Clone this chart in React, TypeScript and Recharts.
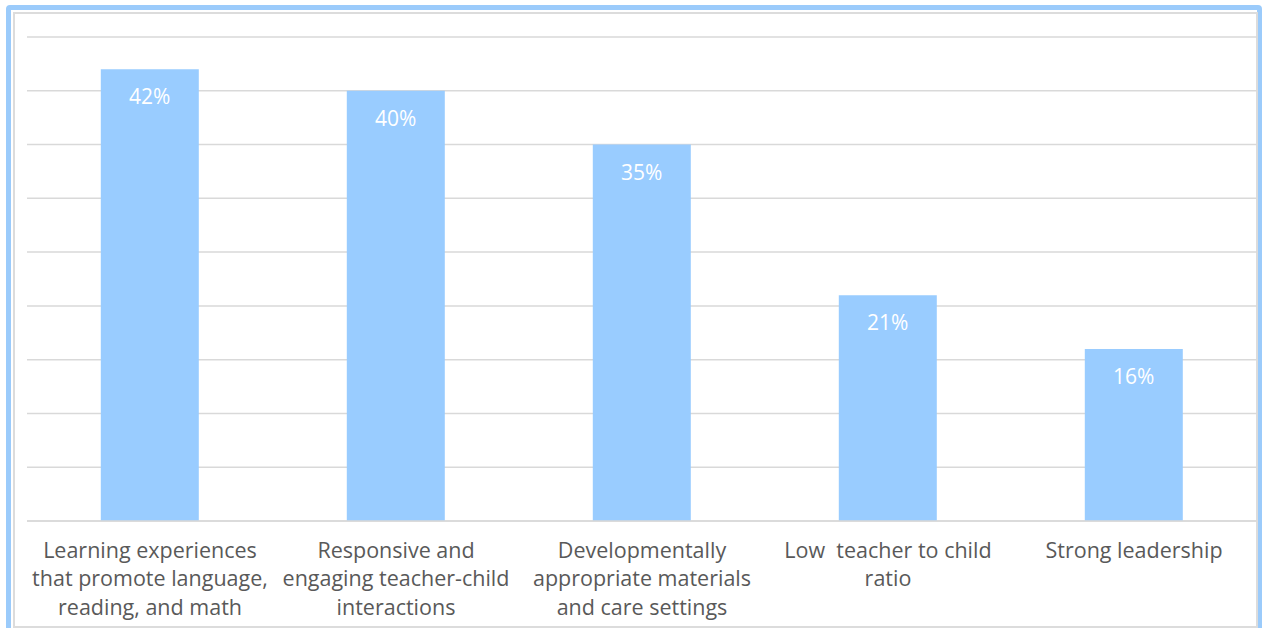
import { BarChart, Bar, XAxis, YAxis, CartesianGrid, LabelList } from "recharts";

const categories = [
  "Learning experiences\nthat promote language,\nreading, and math",
  "Responsive and\nengaging teacher-child\ninteractions",
  "Developmentally\nappropriate materials\nand care settings",
  "Low  teacher to child\nratio",
  "Strong leadership",
];
const shares = [42, 40, 35, 21, 16];
const yTicks = [0, 5, 10, 15, 20, 25, 30, 35, 40, 45];

const data = categories.map((name, i) => ({ name, value: shares[i] }));

const FONT = "'Open Sans', 'Noto Sans', sans-serif";

function WrappedTick(props: any) {
  const { x, y, payload } = props;
  const lines = String(payload.value).split("\n");
  return (
    <text x={x} y={y} textAnchor="middle" fill="#595959" fontSize={21.5} fontFamily={FONT}>
      {lines.map((line, i) => (
        <tspan key={i} x={x} y={y + 20 + i * 28.5} dominantBaseline="central" style={{ whiteSpace: "pre" }}>
          {line}
        </tspan>
      ))}
    </text>
  );
}

function BarValue(props: any) {
  const { x, y, width, value } = props;
  return (
    <text
      x={x + width / 2}
      y={y + 27}
      textAnchor="middle"
      dominantBaseline="central"
      fill="#ffffff"
      fontSize={21}
      fontFamily={FONT}
    >
      {value}%
    </text>
  );
}

export default function App() {
  return (
    <div style={{ position: "absolute", left: 0, top: 0, width: 1262, height: 628, overflow: "hidden", background: "#fff" }}>
      <div
        style={{
          position: "absolute",
          left: 6,
          top: 5,
          width: 1246,
          height: 640,
          border: "5px solid #9BCBFB",
          borderRadius: 4,
        }}
      />
      <div
        style={{
          position: "absolute",
          left: 13,
          top: 12,
          width: 1241,
          height: 612,
          border: "2px solid #DCDCDC",
        }}
      />
      <div style={{ position: "absolute", left: 0, top: 0 }}>
        <BarChart
          width={1262}
          height={628}
          data={data}
          margin={{ top: 37, right: 5, bottom: 0, left: 27 }}
          barCategoryGap="30%"
        >
          <CartesianGrid vertical={false} stroke="#D9D9D9" strokeWidth={1.5} />
          <XAxis
            dataKey="name"
            height={107}
            axisLine={{ stroke: "#D9D9D9", strokeWidth: 1.5 }}
            tickLine={false}
            interval={0}
            tick={<WrappedTick />}
          />
          <YAxis hide domain={[0, 45]} ticks={yTicks} width={0} />
          <Bar dataKey="value" fill="#99CCFF" isAnimationActive={false}>
            <LabelList dataKey="value" content={<BarValue />} />
          </Bar>
        </BarChart>
      </div>
    </div>
  );
}
